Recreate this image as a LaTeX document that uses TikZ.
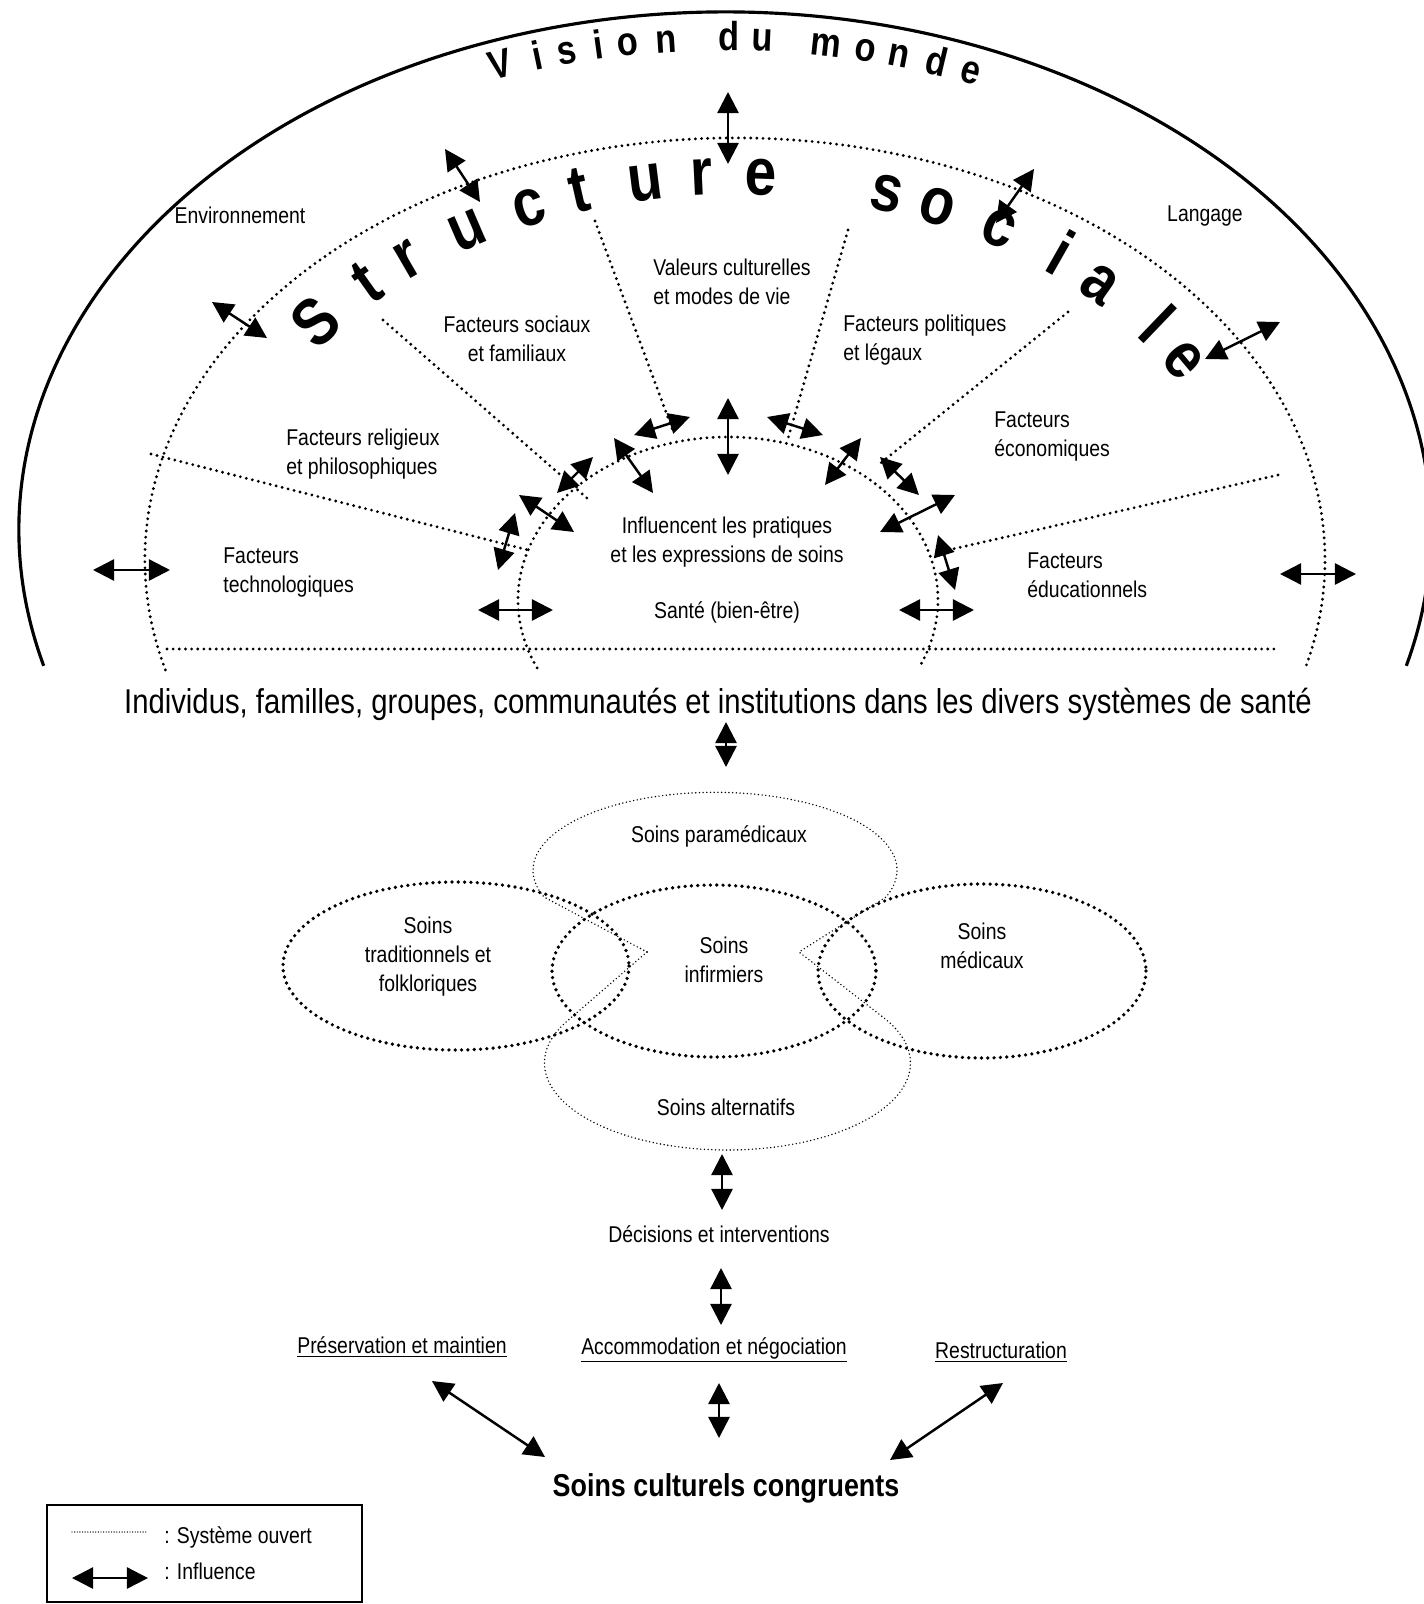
\documentclass[tikz,border=0pt]{standalone}
\usepackage{fontspec}
\setmainfont{Liberation Sans}[FakeStretch=0.85]
\usetikzlibrary{arrows.meta}

\tikzset{
  dots/.style={line width=1.8pt, dash pattern=on 0pt off 3.5pt, line cap=round},
  heavydots/.style={line width=2.1pt, dash pattern=on 0pt off 3.6pt, line cap=round},
  finedots/.style={line width=0.9pt, dash pattern=on 0pt off 2.1pt, line cap=round},
  legenddots/.style={line width=0.8pt, dash pattern=on 0pt off 1.5pt, line cap=round},
  influence/.style={line width=1.4pt, >={Triangle[length=12pt,width=12pt]}, <->},
  lbl/.style={font=\fontsize{13}{16.5}\selectfont, inner sep=0pt},
  vletter/.style={font=\fontsize{23}{23}\selectfont\bfseries, inner sep=0pt, anchor=mid},
  sletter/.style={font=\fontsize{38}{38}\selectfont\bfseries, inner sep=0pt, anchor=mid},
}

\begin{document}
\begin{tikzpicture}[x=0.02cm, y=-0.02cm]
\useasboundingbox (0,0) rectangle (1423,1604);

% ARCS
\draw[line width=1.8pt] ({725+706*cos(164.8)},{530+518*sin(164.8)})
  arc[start angle=164.8, end angle=375.2, x radius=706, y radius=518];
\draw[dots] ({735+590*cos(164.9)},{560+422*sin(164.9)})
  arc[start angle=164.9, end angle=375.1, x radius=590, y radius=422];
\draw[dots] ({728+210*cos(155.4)},{600+163*sin(155.4)})
  arc[start angle=155.4, end angle=384.6, x radius=210, y radius=163];
\draw[dots] (167,649) -- (1279,649);

% RAYS between the factors
\foreach \ax/\ay/\bx/\by [count=\i] in {151/454/528/550, 383/320/588/499,
    595/221/673/431, 848/230/787/442, 1068/312/877/466, 1278/475/944/551}{
  \coordinate (ra\i) at (\ax,\ay);
  \coordinate (rb\i) at (\bx,\by);
  \draw[dots] (ra\i) -- (rb\i);
}

% TITLES along the arcs
\foreach \ch/\t [count=\i] in {V/109.4, i/106.1, s/103.5, i/100.8, o/98.3, n/95.0,
    d/89.7, u/86.8, m/81.4, o/78.0, n/75.1, d/71.8, e/68.7}
  \node[vletter, rotate={atan2(671*sin(\t),484*cos(\t))-90}] (vm\i)
    at ({725+671*cos(\t)},{530-484*sin(\t)}) {\ch};

\foreach \ch/\t [count=\i] in {S/142.6, t/134.5, r/128.7, u/120.8, c/113.2, t/107.3,
    u/99.9, r/93.7, e/87.2, s/73.1, o/67.2, c/59.6, i/51.8, a/45.8, l/37.0, e/31.2}
  \node[sletter, rotate={atan2(512*sin(\t),370*cos(\t))-90}] (ss\i)
    at ({735+512*cos(\t)},{560-370*sin(\t)}) {\ch};

% FACTORS
\node[lbl] (env) at (240,215) {Environnement};
\node[lbl] (lang) at (1205,216) {Langage};
\node[lbl, anchor=west, align=left] (valeurs) at (653,282) {Valeurs culturelles\\et modes de vie};
\node[lbl, align=center] (social) at (517,339) {Facteurs sociaux\\et familiaux};
\node[lbl, anchor=west, align=left] (politique) at (843,340) {Facteurs politiques\\et légaux};
\node[lbl, anchor=west, align=left] (religion) at (286,454) {Facteurs religieux\\et philosophiques};
\node[lbl, anchor=west, align=left] (economie) at (994,437) {Facteurs\\économiques};
\node[lbl, anchor=west, align=left] (techno) at (223,573) {Facteurs\\technologiques};
\node[lbl, anchor=west, align=left] (education) at (1027,575) {Facteurs\\éducationnels};
\node[lbl, align=center] (pratiques) at (727,542) {Influencent les pratiques\\et les expressions de soins};
\node[lbl] (sante) at (727,612) {Santé (bien-être)};

\node[font=\fontsize{19.6}{22}\selectfont, inner sep=0pt] (indiv) at (718,704)
  {Individus, familles, groupes, communautés et institutions dans les divers systèmes de santé};

% CARE SYSTEMS
\draw[heavydots] (456,966) ellipse[x radius=173, y radius=84];
\draw[heavydots] (714,971) ellipse[x radius=162, y radius=86];
\draw[heavydots] (982,971) ellipse[x radius=164, y radius=87];
\coordinate (tipL) at (647,952);
\coordinate (tipR) at (799,952);
\draw[finedots] (tipL) -- (544,897) arc[start angle=160, end angle=380, x radius=182, y radius=78] -- (tipR);
\draw[finedots] (tipL) -- (569,1019.5) arc[start angle=210, end angle=-30, x radius=183, y radius=87] -- (tipR);

\node[lbl] (paramed) at (719,836) {Soins paramédicaux};
\node[lbl, align=center] (trad) at (428,957) {Soins\\traditionnels et\\folkloriques};
\node[lbl, align=center] (infirm) at (724,960) {Soins\\infirmiers};
\node[lbl, align=center] (medic) at (982,946) {Soins\\médicaux};
\node[lbl] (altern) at (726,1107) {Soins alternatifs};

% DECISIONS
\node[lbl] (decision) at (719,1234) {Décisions et interventions};
\node[lbl] (preserv) at (402,1347) {\underline{Préservation et maintien}};
\node[lbl] (accomod) at (714,1350) {\underline{Accommodation et négociation}};
\node[lbl] (restruct) at (1001,1352) {\underline{Restructuration}};
\node[font=\fontsize{18}{20}\selectfont\bfseries, inner sep=0pt] (congru) at (726,1488) {Soins culturels congruents};

% ARROWS
\foreach \ax/\ay/\bx/\by [count=\i] in {728/92/728/164, 445/149/480/202, 212/302/267/338,
    93/570/170/570, 1034/169/996/223, 1280/322/1205/359, 1280/574/1356/574,
    728/398/728/475, 634/435/690/417, 614/438/653/493, 593/457/557/493,
    519/495/574/532, 515/513/498/570, 478/610/553/610, 767/417/823/435,
    861/438/825/485, 880/457/919/495, 955/495/880/532, 938/535/955/590,
    899/610/974/610, 726/722/726/767, 722/1154/722/1210, 721/1268/721/1325,
    432/1381/545/1457, 719/1383/719/1438, 1003/1383/890/1460}{
  \coordinate (ia\i) at (\ax,\ay);
  \coordinate (ib\i) at (\bx,\by);
  \draw[influence] (ia\i) -- (ib\i);
}

% LEGEND
\draw[line width=1.1pt] (47,1505) rectangle (362,1602);
\coordinate (lg1) at (72,1532);
\coordinate (lg2) at (147,1532);
\draw[legenddots] (lg1) -- (lg2);
\node[lbl, anchor=west] (ouvert) at (164,1537) {: Système ouvert};
\coordinate (lg3) at (72,1578);
\coordinate (lg4) at (148,1578);
\draw[influence] (lg3) -- (lg4);
\node[lbl, anchor=west] (infl) at (164,1571) {: Influence};
\end{tikzpicture}
\end{document}
